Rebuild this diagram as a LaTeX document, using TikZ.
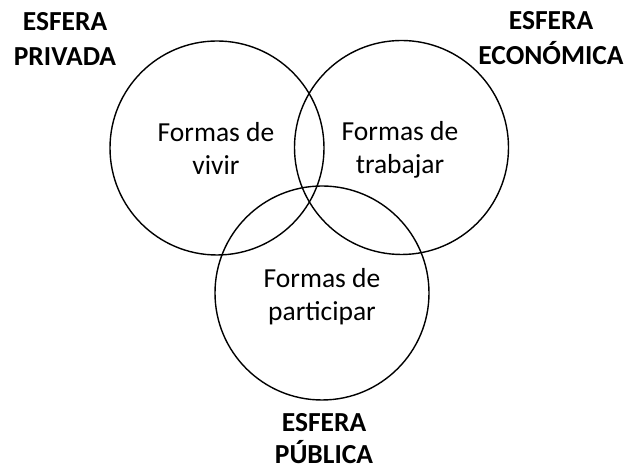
\documentclass[tikz,border=0pt]{standalone}
\usepackage{fontspec}
\setmainfont{Carlito}
\begin{document}
\begin{tikzpicture}[x=1pt,y=1pt,
  sphere/.style={circle,draw=black,line width=1.4pt,minimum size=214pt,inner sep=0pt},
  inner/.style={align=center,font=\fontsize{27.5}{33}\selectfont,inner sep=0pt},
  label/.style={align=center,font=\fontsize{27.5}{35}\selectfont\bfseries,inner sep=0pt}]
\useasboundingbox (0,0) rectangle (633,470);
\node[sphere] (priv) at (217,322) {};
\node[sphere] (econ) at (401.5,322.5) {};
\node[sphere] (pub)  at (322,177) {};
\node[inner] (tpriv) at (216,322) {Formas de\\vivir};
\node[inner] (tecon) at (400,320) {Formas de\\trabajar};
\node[inner] (tpub)  at (322,173) {Formas de\\participar};
\node[label] (lpriv) at (65,431.5) {ESFERA\\PRIVADA};
\node[label] (lecon) at (551,432) {ESFERA\\ECONÓMICA};
\node[label,font=\fontsize{27.5}{32}\selectfont\bfseries] (lpub) at (324,31.5) {ESFERA\\PÚBLICA};
\end{tikzpicture}
\end{document}
